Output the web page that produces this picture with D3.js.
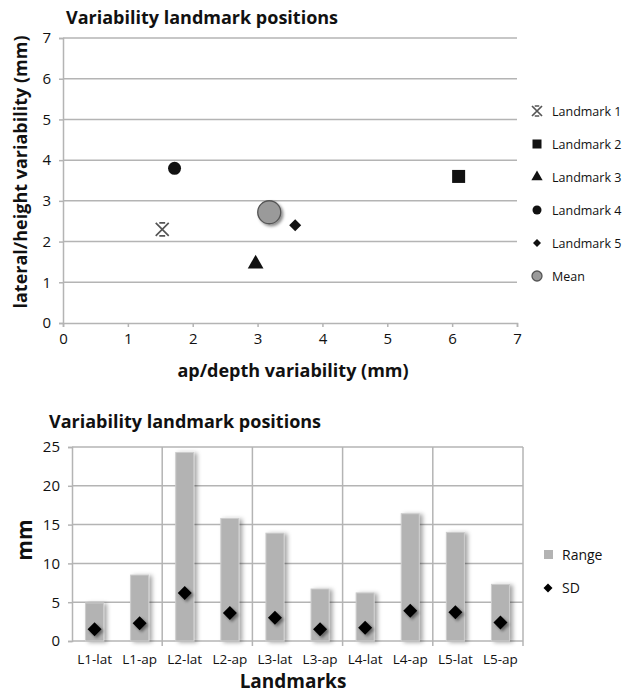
<!DOCTYPE html>
<html><head><meta charset="utf-8">
<script src="https://cdn.jsdelivr.net/npm/d3@7"></script>
<style>
body{margin:0;background:#fff;}
svg{display:block;font-family:"Open Sans",sans-serif;}
</style></head><body>
<svg id="c" width="632" height="693"></svg>
<script>
// ---- Data: scatter (top chart)
const landmarkNames = ["Landmark 1","Landmark 2","Landmark 3","Landmark 4","Landmark 5","Mean"];
const landmarkShapes = ["asterisk","square","triangle","circle","diamond","mean"];
const apVariability = [1.53, 6.1, 2.97, 1.72, 3.58, 3.18];
const latVariability = [2.3, 3.6, 1.45, 3.8, 2.4, 2.72];
const scatterTicks = [0,1,2,3,4,5,6,7];

// ---- Data: bar chart (bottom chart)
const categories = ["L1-lat","L1-ap","L2-lat","L2-ap","L3-lat","L3-ap","L4-lat","L4-ap","L5-lat","L5-ap"];
const rangeValues = [4.9, 8.5, 24.3, 15.8, 13.9, 6.7, 6.2, 16.4, 14.0, 7.3];
const sdValues = [1.5, 2.3, 6.2, 3.6, 3.0, 1.5, 1.7, 3.9, 3.7, 2.4];
const barTicks = [0,5,10,15,20,25];
const seriesNames = ["Range","SD"];

const svg = d3.select("#c");
const defs = svg.append("defs");
const f = defs.append("filter").attr("id","sh").attr("x","-50%").attr("y","-50%").attr("width","200%").attr("height","200%");
f.append("feDropShadow").attr("dx",2).attr("dy",2).attr("stdDeviation",1.6).attr("flood-color","#000").attr("flood-opacity",0.45);
const f2 = defs.append("filter").attr("id","sh2").attr("x","-50%").attr("y","-50%").attr("width","200%").attr("height","200%");
f2.append("feDropShadow").attr("dx",3).attr("dy",1).attr("stdDeviation",2).attr("flood-color","#000").attr("flood-opacity",0.35);

const gridColor = "#b4b4b4";
const txt = "#111";

// ================= TOP: scatter =================
const x1 = d3.scaleLinear().domain([0,7]).range([63,517]);
const y1 = d3.scaleLinear().domain([0,7]).range([323,38]);

svg.append("text").attr("x",66).attr("y",24).attr("font-size",18).attr("font-weight","bold").attr("fill",txt)
  .text("Variability landmark positions");

const g1 = svg.append("g");
g1.selectAll("line.hg").data(scatterTicks.filter(d=>d>0)).join("line")
  .attr("x1",x1(0)).attr("x2",x1(7)).attr("y1",d=>y1(d)).attr("y2",d=>y1(d))
  .attr("stroke",gridColor).attr("stroke-width",1.5);

const xa1 = g1.append("g").attr("transform",`translate(0,${y1(0)})`)
  .call(d3.axisBottom(x1).tickValues(scatterTicks).tickSize(4).tickPadding(6).tickFormat(d3.format("d")));
const ya1 = g1.append("g").attr("transform",`translate(${x1(0)},0)`)
  .call(d3.axisLeft(y1).tickValues(scatterTicks).tickSize(4).tickPadding(8).tickFormat(d3.format("d")));
[xa1,ya1].forEach(a=>{
  a.select(".domain").attr("stroke",gridColor).attr("stroke-width",1.5);
  a.selectAll(".tick line").attr("stroke",gridColor).attr("stroke-width",1.5);
  a.selectAll("text").attr("font-size",15).attr("fill",txt).attr("font-family","Open Sans, sans-serif");
});

svg.append("text").attr("x",293).attr("y",377).attr("text-anchor","middle").attr("font-size",18).attr("font-weight","bold").attr("fill",txt)
  .text("ap/depth variability (mm)");
svg.append("text").attr("transform","translate(27,172) rotate(-90)").attr("text-anchor","middle").attr("font-size",18).attr("font-weight","bold").attr("fill",txt)
  .text("lateral/height variability (mm)");

function drawShape(sel, shape, s){
  if(shape==="asterisk"){
    const r=s*0.5, c=r*0.45;
    sel.append("path").attr("d",`M${-r},${-r}L${r},${r}M${-r},${r}L${r},${-r}M${-c},${-r}L${c},${-r}M${-c},${r}L${c},${r}`)
      .attr("stroke","#555").attr("stroke-width",1.7).attr("fill","none");
  } else if(shape==="square"){
    sel.append("rect").attr("x",-s/2).attr("y",-s/2).attr("width",s).attr("height",s).attr("fill","#111");
  } else if(shape==="triangle"){
    sel.append("path").attr("d",d3.symbol(d3.symbolTriangle, s*s*0.55)()).attr("fill","#111");
  } else if(shape==="circle"){
    sel.append("circle").attr("r",s/2).attr("fill","#111");
  } else if(shape==="diamond"){
    const r=s/2;
    sel.append("path").attr("d",`M0,${-r}L${r},0L0,${r}L${-r},0Z`).attr("fill","#111");
  } else if(shape==="mean"){
    sel.append("circle").attr("r",s/2).attr("fill","#9a9a9a").attr("stroke","#555").attr("stroke-width",1.3);
  }
}
const markerSize = {asterisk:13, square:13, triangle:14, circle:13, diamond:12, mean:23};
landmarkShapes.forEach((sh,i)=>{
  const g = svg.append("g").attr("transform",`translate(${x1(apVariability[i])},${y1(latVariability[i])})`);
  if(sh==="mean") g.attr("filter","url(#sh)");
  drawShape(g, sh, markerSize[sh]);
});

// legend
const legendSize = {asterisk:10, square:9, triangle:10, circle:9, diamond:8, mean:10};
landmarkNames.forEach((n,i)=>{
  const yy = 111 + i*33;
  const g = svg.append("g").attr("transform",`translate(537,${yy})`);
  drawShape(g, landmarkShapes[i], legendSize[landmarkShapes[i]]);
  svg.append("text").attr("x",552).attr("y",yy+4.5).attr("font-size",12.5).attr("fill",txt).text(n);
});

// ================= BOTTOM: bar chart =================
const x2 = d3.scaleBand().domain(categories).range([72,523]).paddingInner(0.6).paddingOuter(0.3);
const y2 = d3.scaleLinear().domain([0,25]).range([641,447]);

svg.append("text").attr("x",49).attr("y",428).attr("font-size",18).attr("font-weight","bold").attr("fill",txt)
  .text("Variability landmark positions");

const g2 = svg.append("g");
g2.selectAll("line.hg").data(barTicks.filter(d=>d>0)).join("line")
  .attr("x1",72).attr("x2",523).attr("y1",d=>y2(d)).attr("y2",d=>y2(d))
  .attr("stroke",gridColor).attr("stroke-width",1.5);
const step = x2.step();
const boundaries = [2,4,6,8].map(i=>x2(categories[i]) - step*x2.paddingInner()/2);
boundaries.push(x2.range()[1]);
g2.selectAll("line.vg").data(boundaries).join("line")
  .attr("x1",d=>d).attr("x2",d=>d).attr("y1",y2(25)).attr("y2",y2(0)+5)
  .attr("stroke",gridColor).attr("stroke-width",1.5);

const ya2 = g2.append("g").attr("transform","translate(72,0)")
  .call(d3.axisLeft(y2).tickValues(barTicks).tickSize(4).tickPadding(8));
ya2.select(".domain").attr("stroke",gridColor).attr("stroke-width",1.5);
ya2.selectAll(".tick line").attr("stroke",gridColor).attr("stroke-width",1.5);
ya2.selectAll("text").attr("font-size",15).attr("fill",txt).attr("font-family","Open Sans, sans-serif");

const xa2 = g2.append("g").attr("transform",`translate(0,${y2(0)})`)
  .call(d3.axisBottom(x2).tickSize(0).tickPadding(13));
xa2.select(".domain").attr("stroke",gridColor).attr("stroke-width",1.5).attr("d",`M72,0H523`);
xa2.selectAll("text").attr("font-size",13.5).attr("fill",txt).attr("font-family","Open Sans, sans-serif");

g2.selectAll("rect.bar").data(categories).join("rect")
  .attr("x",d=>x2(d)).attr("width",x2.bandwidth())
  .attr("y",(d,i)=>y2(rangeValues[i])).attr("height",(d,i)=>y2(0)-y2(rangeValues[i]))
  .attr("fill","#b3b3b3").attr("stroke","#cdcdcd").attr("stroke-width",1)
  .attr("filter","url(#sh2)");

g2.selectAll("path.sd").data(categories).join("path")
  .attr("transform",(d,i)=>`translate(${x2(d)+x2.bandwidth()/2},${y2(sdValues[i])})`)
  .attr("d","M0,-7L7,0L0,7L-7,0Z").attr("fill","#000").attr("filter","url(#sh)");

svg.append("text").attr("transform","translate(32,540) rotate(-90)").attr("text-anchor","middle").attr("font-size",21).attr("font-weight","bold").attr("fill",txt).text("mm");
svg.append("text").attr("x",293).attr("y",688).attr("text-anchor","middle").attr("font-size",19).attr("font-weight","bold").attr("fill",txt).text("Landmarks");

// bar legend
svg.append("rect").attr("x",544).attr("y",550).attr("width",9).attr("height",9).attr("fill","#b3b3b3");
svg.append("text").attr("x",562).attr("y",560).attr("font-size",14).attr("fill",txt).text(seriesNames[0]);
svg.append("path").attr("transform","translate(548,588)").attr("d","M0,-4.5L4.5,0L0,4.5L-4.5,0Z").attr("fill","#000");
svg.append("text").attr("x",562).attr("y",593).attr("font-size",14).attr("fill",txt).text(seriesNames[1]);
</script></body></html>
